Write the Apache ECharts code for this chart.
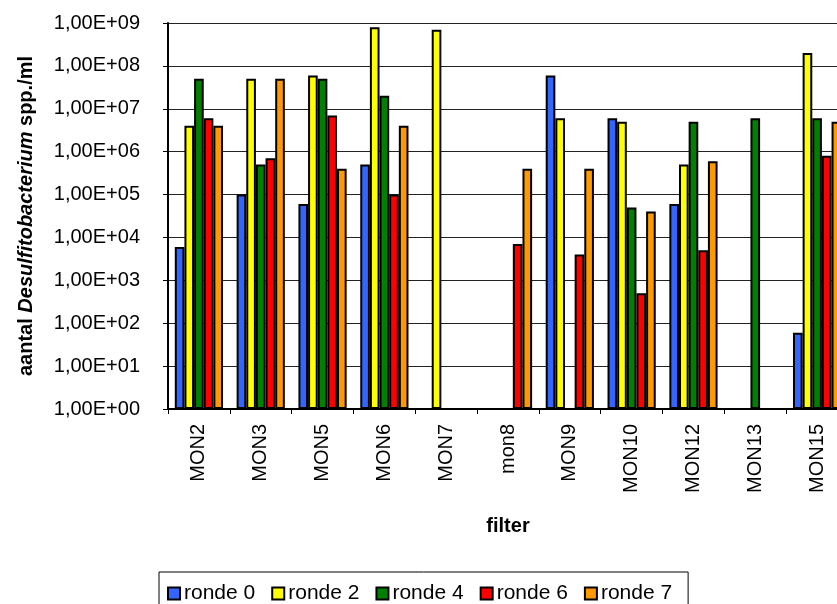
<!DOCTYPE html>
<html>
<head>
<meta charset="utf-8">
<script src="https://cdn.jsdelivr.net/npm/echarts@6/dist/echarts.min.js"></script>
<style>
html,body{margin:0;padding:0;background:#fff;}
#chart{width:837px;height:604px;}
</style>
</head>
<body>
<div id="chart"></div>
<script>
const categories = ['MON2','MON3','MON5','MON6','MON7','mon8','MON9','MON10','MON12','MON13','MON15'];
const seriesNames = ['ronde 0','ronde 2','ronde 4','ronde 6','ronde 7'];
const ronde0 = [6e3, 1e5, 6e4, 5e5, null, null, 6e7, 6e6, 6e4, null, 6e1];
const ronde2 = [4e6, 5e7, 6e7, 8e8, 7e8, null, 6e6, 5e6, 5e5, null, 2e8];
const ronde4 = [5e7, 5e5, 5e7, 2e7, null, null, null, 5e4, 5e6, 6e6, 6e6];
const ronde6 = [6e6, 7e5, 7e6, 1e5, null, 7e3, 4e3, 5e2, 5e3, null, 8e5];
const ronde7 = [4e6, 5e7, 4e5, 4e6, null, 4e5, 4e5, 4e4, 6e5, null, 5e6];
const yTickLabels = ['1,00E+00','1,00E+01','1,00E+02','1,00E+03','1,00E+04','1,00E+05','1,00E+06','1,00E+07','1,00E+08','1,00E+09'];
const colors = ['#3366FF','#FFFF00','#008000','#FF0000','#FF9900'];
const seriesData = [ronde0, ronde2, ronde4, ronde6, ronde7];

const FONT = '"Liberation Sans", Arial, sans-serif';
const chart = echarts.init(document.getElementById('chart'), null, {renderer:'canvas'});
chart.setOption({
  animation: false,
  backgroundColor: '#ffffff',
  textStyle: {fontFamily: FONT},
  grid: {left: 168, top: 23, height: 386, width: 680, containLabel: false, outerBoundsMode: 'none'},
  legend: {
    left: 159, top: 572,
    orient: 'horizontal',
    padding: [11, 16, 8, 8],
    borderColor: '#000', borderWidth: 1,
    itemWidth: 12, itemHeight: 12, itemGap: 16,
    icon: 'rect',
    itemStyle: {borderColor: '#000', borderWidth: 2},
    textStyle: {fontFamily: FONT, fontSize: 21, color: '#000', padding: [0,0,0,-1]},
    data: seriesNames
  },
  xAxis: {
    type: 'category',
    data: categories,
    name: 'filter',
    nameLocation: 'middle',
    nameGap: 107,
    nameTextStyle: {fontFamily: FONT, fontSize: 20, fontWeight: 'bold', color: '#000'},
    axisLine: {lineStyle: {color: '#000', width: 2}},
    axisTick: {show: true, length: 5, lineStyle: {color: '#000', width: 1}},
    axisLabel: {rotate: 90, margin: 15, interval: 0, fontFamily: FONT, fontSize: 20, color: '#000'},
    splitLine: {show: false}
  },
  yAxis: {
    type: 'log',
    logBase: 10,
    min: 1, max: 1e9,
    name: '{n|aantal }{i|Desulfitobacterium}{n| spp./ml}',
    nameLocation: 'middle',
    nameRotate: 90,
    nameGap: 132,
    nameTextStyle: {
      fontFamily: FONT, fontSize: 20, fontWeight: 'bold', color: '#000',
      rich: {
        n: {fontFamily: FONT, fontSize: 20, fontWeight: 'bold', color: '#000'},
        i: {fontFamily: FONT, fontSize: 20, fontWeight: 'bold', fontStyle: 'italic', color: '#000'}
      }
    },
    axisLine: {show: true, lineStyle: {color: '#000', width: 2}},
    axisTick: {show: true, length: 5, lineStyle: {color: '#000', width: 1}},
    axisLabel: {
      margin: 28, fontFamily: FONT, fontSize: 20, color: '#000',
      formatter: function (v) { return yTickLabels[Math.round(Math.log10(v))]; }
    },
    splitLine: {show: true, lineStyle: {color: '#222', width: 1}}
  },
  series: seriesNames.map(function (name, i) {
    return {
      name: name,
      type: 'bar',
      data: seriesData[i],
      barGap: '0%',
      barCategoryGap: '22%',
      itemStyle: {color: colors[i], borderColor: '#000', borderWidth: 2}
    };
  })
});
</script>
</body>
</html>
